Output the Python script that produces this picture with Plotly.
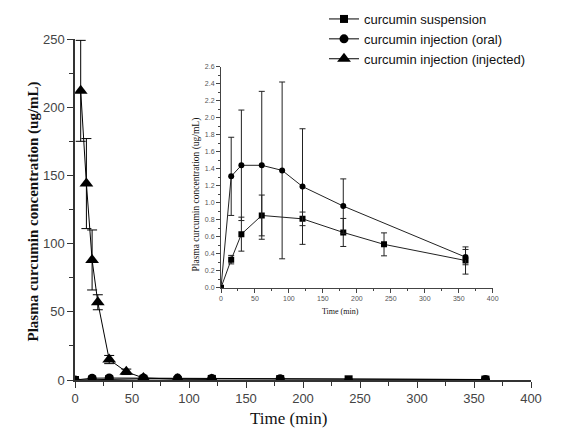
import plotly.graph_objects as go

# ---- data ----
susp_t = [0, 15, 30, 60, 120, 180, 240, 360]
susp_c = [0.0, 0.33, 0.63, 0.85, 0.81, 0.65, 0.51, 0.32]
susp_e = [0.0, 0.05, 0.20, 0.24, 0.08, 0.165, 0.135, 0.16]

oral_t = [0, 15, 30, 60, 90, 120, 180, 360]
oral_c = [0.0, 1.31, 1.44, 1.44, 1.38, 1.19, 0.96, 0.36]
oral_e = [0.0, 0.46, 0.65, 0.87, 1.04, 0.68, 0.32, 0.09]

inj_t = [5, 10, 15, 20, 30, 45, 60, 90, 120]
inj_c = [212, 144, 88, 57, 15, 6, 1.5, 0.6, 0.4]
inj_e = [37, 33, 22, 5.5, 3, 2, 0.5, 0.2, 0.1]

names = ["curcumin suspension", "curcumin injection (oral)", "curcumin injection (injected)"]

OFF = 8  # browser default body margin
L, R, T, B = 75 - OFF, 33, 39 - OFF, 59
W, H = 564 - OFF, 439 - OFF
PW, PH = W - L - R, H - T - B
def px(x): return (x - OFF - L) / PW
def py(y): return (H - B - (y - OFF)) / PH

fig = go.Figure()
line = dict(color="black", width=1)
# main traces
fig.add_trace(go.Scatter(x=susp_t, y=susp_c, name=names[0], mode="lines+markers",
    line=line, marker=dict(symbol="square", size=8, color="black"),
    error_y=dict(type="data", array=susp_e, color="black", thickness=1, width=4)))
fig.add_trace(go.Scatter(x=oral_t, y=oral_c, name=names[1], mode="lines+markers",
    line=line, marker=dict(symbol="circle", size=9, color="black"),
    error_y=dict(type="data", array=oral_e, color="black", thickness=1, width=4)))
fig.add_trace(go.Scatter(x=inj_t, y=inj_c, name=names[2], mode="lines+markers",
    line=line, marker=dict(symbol="triangle-up", size=12, color="black"),
    error_y=dict(type="data", array=inj_e, color="black", thickness=1, width=5)))

# inset traces
iline = dict(color="#222", width=1)
fig.add_trace(go.Scatter(x=susp_t, y=susp_c, mode="lines+markers", showlegend=False,
    xaxis="x2", yaxis="y2", line=iline, marker=dict(symbol="square", size=6, color="black"),
    error_y=dict(type="data", array=susp_e, color="#222", thickness=1, width=3)))
fig.add_trace(go.Scatter(x=oral_t, y=oral_c, mode="lines+markers", showlegend=False,
    xaxis="x2", yaxis="y2", line=iline, marker=dict(symbol="circle", size=6, color="black"),
    error_y=dict(type="data", array=oral_e, color="#222", thickness=1, width=3)))

tickfont = dict(family="Liberation Sans, Arial", size=13, color="#444")
ax_common = dict(showgrid=False, zeroline=False, showline=True, linecolor="#333", linewidth=1.5,
                 ticks="outside", ticklen=6, tickcolor="#333", tickwidth=1.2)

fig.update_layout(
    width=W, height=H, margin=dict(l=L, r=R, t=T, b=B, autoexpand=False),
    plot_bgcolor="white", paper_bgcolor="white",
    xaxis=dict(range=[0, 400], dtick=50, tickfont=tickfont,
               minor=dict(dtick=25, ticks="outside", ticklen=4, tickcolor="#333"), **ax_common),
    yaxis=dict(range=[0, 250], dtick=50, tickfont=tickfont,
               minor=dict(dtick=25, ticks="outside", ticklen=4, tickcolor="#333"), **ax_common),
    xaxis2=dict(domain=[px(221), px(492.7)], anchor="y2", range=[0, 400], dtick=50,
                showgrid=False, zeroline=False, showline=True, linecolor="#444", linewidth=1,
                ticks="outside", ticklen=4, tickcolor="#444",
                minor=dict(dtick=25, ticks="outside", ticklen=2, tickcolor="#444"),
                tickfont=dict(family="Liberation Sans, Arial", size=7, color="#555")),
    yaxis2=dict(domain=[py(287.7), py(66.7)], anchor="x2", range=[0, 2.6], dtick=0.2,
                tickformat=".1f",
                showgrid=False, zeroline=False, showline=True, linecolor="#444", linewidth=1,
                ticks="outside", ticklen=4, tickcolor="#444",
                minor=dict(dtick=0.1, ticks="outside", ticklen=2, tickcolor="#444"),
                tickfont=dict(family="Liberation Sans, Arial", size=7, color="#555")),
    legend=dict(x=px(324), y=py(4), xanchor="left", yanchor="top",
                font=dict(family="Liberation Sans, Arial", size=13, color="#111"),
                bgcolor="rgba(0,0,0,0)", tracegroupgap=0, itemwidth=30),
    showlegend=True,
)

serif = "Liberation Serif, Times New Roman"
fig.add_annotation(text="<b>Plasma curcumin concentration (ug/mL)</b>", textangle=-90,
    x=px(22), y=py(212), xref="paper", yref="paper", showarrow=False,
    font=dict(family=serif, size=15, color="#111"))
fig.add_annotation(text="Time (min)", x=px(288), y=py(430), xref="paper", yref="paper",
    showarrow=False, font=dict(family=serif, size=17, color="#111"))
fig.add_annotation(text="Time (min)", x=px(340), y=py(318), xref="paper", yref="paper",
    showarrow=False, font=dict(family=serif, size=8, color="#111"))
fig.add_annotation(text="Plasma curcumin concentration (ug/mL)", textangle=-90,
    x=px(188), y=py(195), xref="paper", yref="paper", showarrow=False,
    font=dict(family=serif, size=9.5, color="#111"))

fig.write_html("out.html")
